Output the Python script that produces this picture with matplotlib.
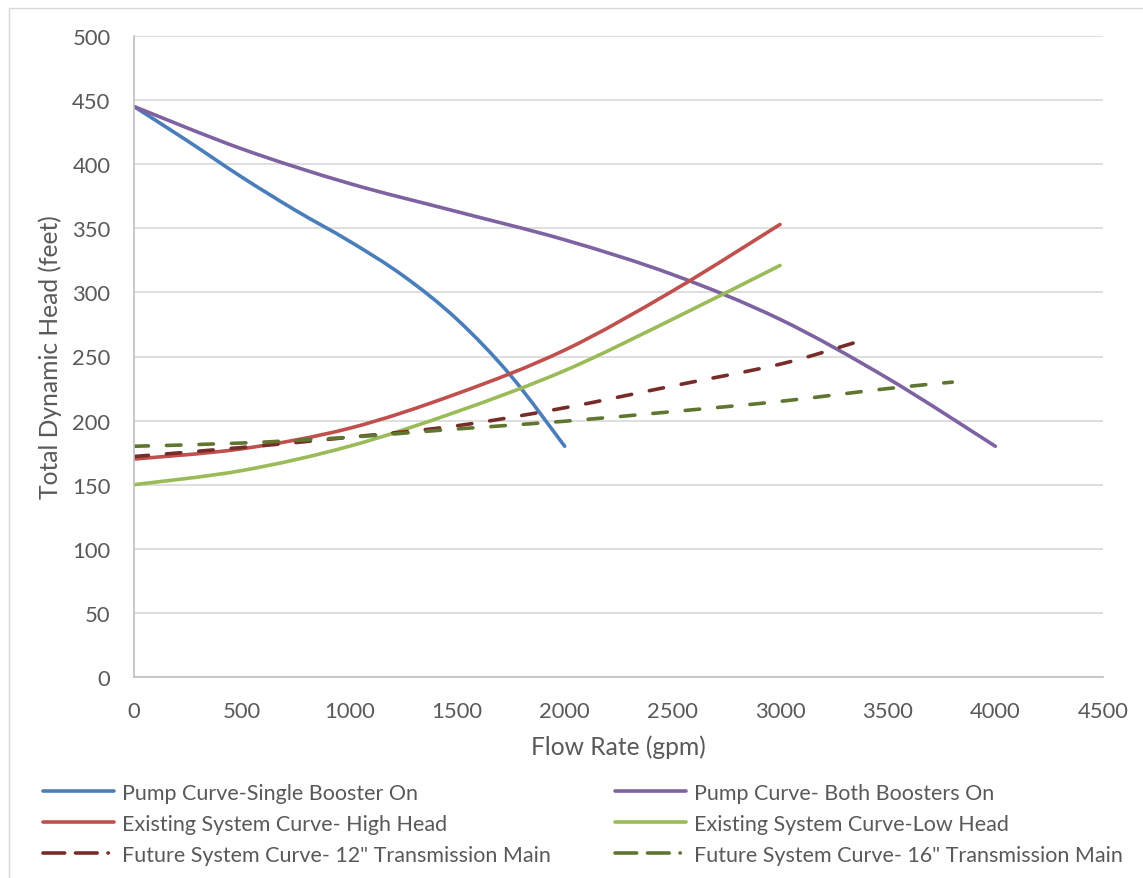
import matplotlib.pyplot as plt
from matplotlib.lines import Line2D
from matplotlib.patches import PathPatch, Rectangle
from matplotlib.path import Path

plt.switch_backend("Agg")
plt.rcParams["font.family"] = ["Lato", "DejaVu Sans"]

TXT = "#595959"

# values (gpm, feet)
single_q = [0, 250, 500, 750, 1000, 1250, 1500, 1750, 2000]
single_h = [445, 418, 390, 364, 340, 313, 279, 235, 180]

both_q = [0, 500, 1000, 1500, 2000, 2500, 3000, 3500, 4000]
both_h = [445, 412, 385, 363, 341, 314, 279, 233, 180]

high_q = [0, 500, 1000, 1500, 2000, 2500, 3000]
high_h = [170, 178, 194, 221, 255, 301, 353]

low_q = [0, 500, 1000, 1500, 2000, 2500, 3000]
low_h = [150, 161, 180, 207, 239, 279, 321]

main12_q = [0, 500, 1000, 1500, 2000, 2500, 3000, 3350]
main12_h = [172, 179, 187, 196, 210, 227, 244, 261]

main16_q = [0, 500, 1000, 1500, 2000, 2500, 3000, 3500, 3800]
main16_h = [180, 182.5, 187, 193.5, 199.5, 207, 215, 225, 230]


def smooth_path(xs, ys):
    """Excel-style smoothed line: Catmull-Rom segments as cubic Beziers."""
    pts = list(zip(xs, ys))
    verts, codes = [pts[0]], [Path.MOVETO]
    n = len(pts)
    for i in range(n - 1):
        p0 = pts[max(i - 1, 0)]
        p1, p2 = pts[i], pts[i + 1]
        p3 = pts[min(i + 2, n - 1)]
        c1 = (p1[0] + (p2[0] - p0[0]) / 6, p1[1] + (p2[1] - p0[1]) / 6)
        c2 = (p2[0] - (p3[0] - p1[0]) / 6, p2[1] - (p3[1] - p1[1]) / 6)
        verts += [c1, c2, p2]
        codes += [Path.CURVE4] * 3
    return Path(verts, codes)


fig = plt.figure(figsize=(11.43, 8.79), dpi=100)
ax = fig.add_axes([134 / 1143, 1 - 678 / 879, (1103 - 134) / 1143, (678 - 37) / 879])

# chart-area border (top and left are visible in the reference)
fig.patches.append(Rectangle((9 / 1143, -0.1), 1.2, 1.1 - 9 / 879, transform=fig.transFigure,
                             fill=False, edgecolor="#d9d9d9", lw=1.0))

lw = 2.6
dashes = (0, (4.0, 5.0))
series = [
    (single_q, single_h, "#4A7EBB", "-", "Pump Curve-Single Booster On"),
    (both_q, both_h, "#7E62A1", "-", "Pump Curve- Both Boosters On"),
    (high_q, high_h, "#C0504D", "-", "Existing System Curve- High Head"),
    (low_q, low_h, "#9BBB59", "-", "Existing System Curve-Low Head"),
    (main12_q, main12_h, "#772C2A", dashes, 'Future System Curve- 12" Transmission Main'),
    (main16_q, main16_h, "#5F7530", dashes, 'Future System Curve- 16" Transmission Main'),
]
proxies = []
for xs, ys, col, ls, lab in series:
    patch = PathPatch(smooth_path(xs, ys), fill=False, edgecolor=col, lw=lw, ls=ls,
                      capstyle="round", joinstyle="round")
    ax.add_patch(patch)
    # legend swatch: Excel shows dash, dash, dot for these
    hls = (0, (6.0, 3.0, 6.0, 3.0, 0.1, 3.0)) if ls != "-" else "-"
    proxies.append(Line2D([], [], color=col, lw=lw, ls=hls, dash_capstyle="round",
                          solid_capstyle="round", label=lab))

ax.set_xlim(0, 4500)
ax.set_ylim(0, 500)
ax.set_xticks(range(0, 4501, 500))
ax.set_yticks(range(0, 501, 50))
ax.grid(axis="y", color="#d9d9d9", lw=1.2)
ax.set_axisbelow(True)
for s in ["top", "right"]:
    ax.spines[s].set_visible(False)
for s in ["left", "bottom"]:
    ax.spines[s].set_color("#bfbfbf")
    ax.spines[s].set_linewidth(1.2)
ax.tick_params(length=0, labelsize=15.8, labelcolor=TXT)
ax.tick_params(axis="y", pad=17)
ax.tick_params(axis="x", pad=17)
ax.set_xlabel("Flow Rate (gpm)", fontsize=17.7, color=TXT, labelpad=10)
ax.set_ylabel("Total Dynamic Head (feet)", fontsize=17.7, color=TXT, labelpad=7)

order = [0, 2, 4, 1, 3, 5]
handles = [proxies[i] for i in order]
leg = fig.legend(handles=handles, labels=[h.get_label() for h in handles], ncol=2,
                 loc="upper left", bbox_to_anchor=(43 / 1143, 1 - 784 / 879),
                 frameon=False, fontsize=15.5, borderpad=0, borderaxespad=0,
                 handlelength=3.3, handletextpad=0.38, labelspacing=0.5,
                 columnspacing=2.97)
for t in leg.get_texts():
    t.set_color(TXT)

fig.savefig("out.png", dpi=100)
